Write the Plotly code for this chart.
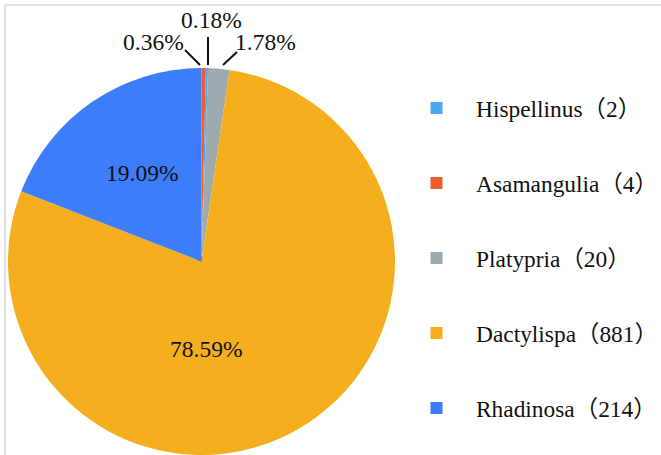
import plotly.graph_objects as go

W, H = 661, 455

# ---- data ----
legend_labels = ["Hispellinus", "Asamangulia", "Platypria", "Dactylispa", "Rhadinosa"]
legend_counts = [2, 4, 20, 881, 214]
slice_order = ["Asamangulia", "Hispellinus", "Platypria", "Dactylispa", "Rhadinosa"]
colors = {
    "Hispellinus": "#4ea6f3",
    "Asamangulia": "#ea5f2c",
    "Platypria": "#9eabae",
    "Dactylispa": "#f5ae1e",
    "Rhadinosa": "#3d7dfa",
}

count_of = dict(zip(legend_labels, legend_counts))
total = sum(legend_counts)
pct = {k: f"{v / total * 100:.2f}%" for k, v in count_of.items()}

SERIF = "Liberation Serif, Noto Sans CJK SC"
LEG_SIZE = 23.4
ITEM_PITCH = 75


def leg_text(name):
    return f"{name}（{count_of[name]}）"


def px(x, y):
    return x / W, 1 - y / H


fig = go.Figure()

# one tiny legend-carrier pie per category (hidden beneath the real pie),
# each in its own legend group so the legend lists items in reference order and spacing
x0, y0 = px(196, 256)
x1, y1 = px(204, 264)
for n in legend_labels:
    fig.add_trace(go.Pie(
        labels=[leg_text(n)], values=[count_of[n]],
        marker=dict(colors=[colors[n]]),
        textinfo="none", hoverinfo="skip", legendgroup=n, showlegend=True,
        domain=dict(x=[x0, x1], y=[y1, y0]),
    ))

# real pie
fig.add_trace(go.Pie(
    labels=[leg_text(n) for n in slice_order],
    values=[count_of[n] for n in slice_order],
    marker=dict(colors=[colors[n] for n in slice_order], line=dict(width=0)),
    sort=False, direction="clockwise", rotation=0, textinfo="none",
    domain=dict(x=[7 / W, 396 / W], y=[0, 1 - 68 / H]),
    showlegend=False,
))

# percentage labels
label_pos = {
    "Rhadinosa": (142, 173),
    "Dactylispa": (206, 349),
    "Asamangulia": (153, 42),
    "Hispellinus": (211, 20),
    "Platypria": (265, 42),
}
for n, (lx, ly) in label_pos.items():
    ax_, ay_ = px(lx, ly)
    fig.add_annotation(x=ax_, y=ay_, xref="paper", yref="paper", text=pct[n],
                       xanchor="center", yanchor="middle",
                       showarrow=False, font=dict(family=SERIF, size=23.5, color="#111111"))

# leader lines
leaders = [((185, 50), (200, 65)), ((208, 37), (208, 65)), ((237, 52), (223, 65))]
for (a, b) in leaders:
    xa, ya = px(*a)
    xb, yb = px(*b)
    fig.add_shape(type="line", xref="paper", yref="paper", x0=xa, y0=ya, x1=xb, y1=yb,
                  line=dict(color="#111111", width=2))

# frame lines
fx0, fy0 = px(5, 5)
fig.add_shape(type="line", xref="paper", yref="paper", x0=fx0, y0=fy0, x1=1, y1=fy0,
              line=dict(color="#d9d9d9", width=1.5))
fig.add_shape(type="line", xref="paper", yref="paper", x0=fx0, y0=fy0, x1=fx0, y1=0,
              line=dict(color="#d9d9d9", width=1.5))

item_h = LEG_SIZE * 1.3 + 3
lx, ly = px(397, 108 - 5 - item_h / 2)
fig.update_layout(
    width=W, height=H, autosize=False,
    margin=dict(l=0, r=0, t=0, b=0, autoexpand=False),
    paper_bgcolor="white", plot_bgcolor="white",
    font=dict(family=SERIF, color="#111111"),
    showlegend=True,
    legend=dict(x=lx, y=ly, xanchor="left", yanchor="top", itemwidth=69,
                font=dict(family=SERIF, size=LEG_SIZE, color="#111111"),
                bgcolor="rgba(0,0,0,0)", valign="middle",
                tracegroupgap=ITEM_PITCH - item_h,
                traceorder="grouped"),
)

fig.write_html("out.html")
